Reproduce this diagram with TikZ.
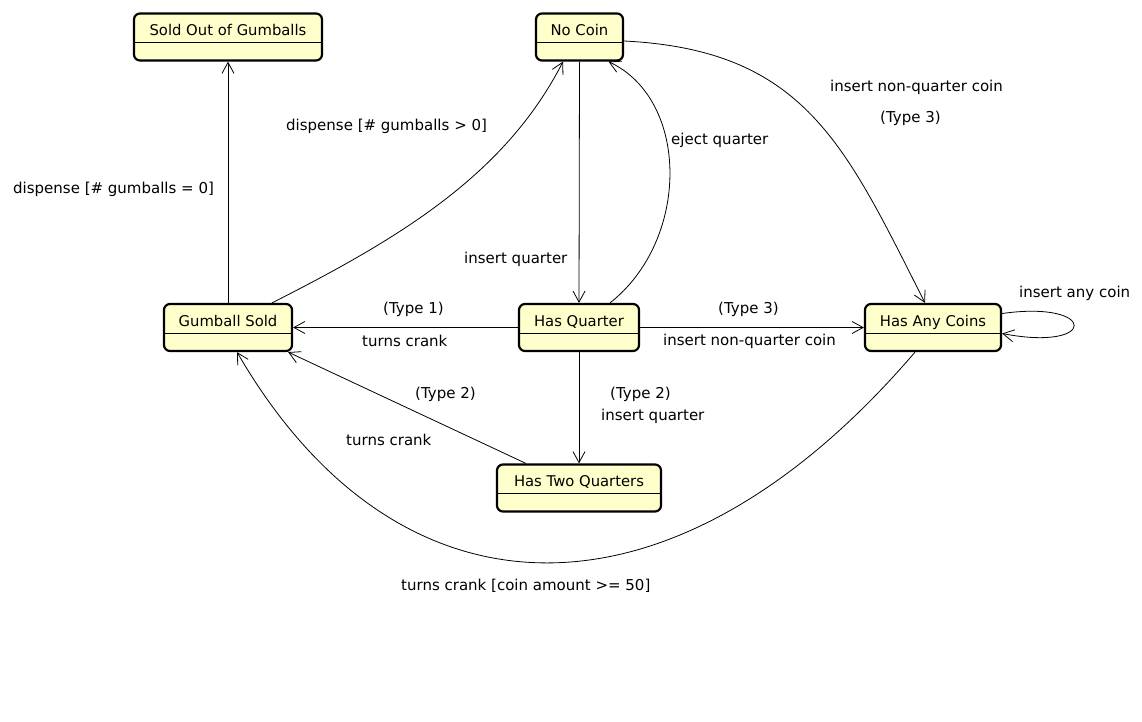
\documentclass[tikz,border=0pt]{standalone}
\usepackage{fontspec}
\setmainfont{DejaVu Sans}
\usetikzlibrary{arrows.meta}
\definecolor{statefill}{HTML}{FFFFCC}
\tikzset{
  state/.style={draw=black, fill=statefill, line width=2.2pt, rounded corners=6pt,
    inner xsep=0pt, inner ysep=0pt, text height=22pt, text depth=25pt,
    font=\fontsize{14.8}{16}\selectfont,
    path picture={\draw[line width=1pt] ([yshift=18pt]path picture bounding box.south west) -- ([yshift=18pt]path picture bounding box.south east);}},
  lbl/.style={inner sep=0pt, anchor=west, font=\fontsize{15}{16}\selectfont},
  edge/.style={draw=black, line width=0.8pt, -{Straight Barb[length=11pt,width=12pt,line width=0.8pt]}}
}
\begin{document}
\begin{tikzpicture}[x=1pt,y=-1pt]
\useasboundingbox[fill=white] (0,0) rectangle (1142,722);
% states
\node[state, minimum width=188pt] (soldout) at (228,37) {Sold Out of Gumballs};
\node[state, minimum width=87pt] (nocoin) at (579.5,37) {No Coin};
\node[state, minimum width=128pt] (gsold) at (228,327.5) {Gumball Sold};
\node[state, minimum width=120pt] (hasq) at (579,327.5) {Has Quarter};
\node[state, minimum width=136pt] (hasany) at (933,327.5) {Has Any Coins};
\node[state, minimum width=164pt] (hastwo) at (579,488) {Has Two Quarters};
% transitions
\draw[edge] (gsold.north) -- (soldout.south);
\draw[edge] ([xshift=44pt]gsold.north) .. controls (400,238) and (505,175) .. ([xshift=-16.5pt]nocoin.south);
\draw[edge] (nocoin.south) -- (hasq.north);
\draw[edge] ([xshift=31pt]hasq.north) .. controls (690,240) and (690,100) .. ([xshift=29pt]nocoin.south);
\draw[edge] ([yshift=-4pt]nocoin.east) .. controls (805,50) and (845,145) .. ([xshift=-8pt]hasany.north);
\draw[edge] (hasq.west) -- (gsold.east);
\draw[edge] (hasq.east) -- (hasany.west);
\draw[edge] (hasq.south) -- (hastwo.north);
\draw[edge] ([xshift=30pt]hastwo.north west) -- ([xshift=-5pt]gsold.south east);
\draw[edge] ([xshift=-18pt]hasany.south) .. controls (675,633) and (400,633) .. ([xshift=9pt]gsold.south);
\draw[edge] ([yshift=14pt]hasany.east) .. controls (1098,300) and (1098,352) .. ([yshift=-6pt]hasany.east);
% labels
\node[lbl] (l1) at (13,189) {dispense [\# gumballs = 0]};
\node[lbl] (l2) at (286,126) {dispense [\# gumballs > 0]};
\node[lbl] (l3) at (464,259) {insert quarter};
\node[lbl] (l4) at (671,140) {eject quarter};
\node[lbl] (l5) at (830,87) {insert non-quarter coin};
\node[lbl] (l6) at (880,118) {(Type 3)};
\node[lbl] (l7) at (383,309) {(Type 1)};
\node[lbl] (l8) at (362,341) {turns crank};
\node[lbl] (l9) at (718,309) {(Type 3)};
\node[lbl] (l10) at (663,341) {insert non-quarter coin};
\node[lbl] (l11) at (610,394) {(Type 2)};
\node[lbl] (l12) at (601,416) {insert quarter};
\node[lbl] (l13) at (415,394) {(Type 2)};
\node[lbl] (l14) at (346,440) {turns crank};
\node[lbl] (l15) at (401,586) {turns crank [coin amount >= 50]};
\node[lbl] (l16) at (1019,293) {insert any coin};
\end{tikzpicture}
\end{document}
